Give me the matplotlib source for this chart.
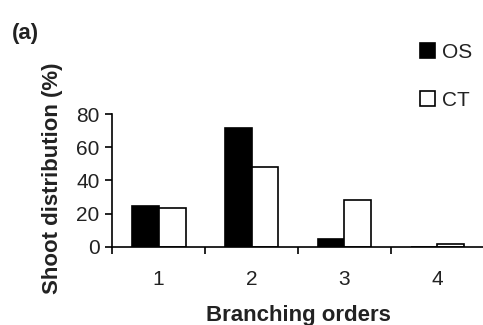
import matplotlib
matplotlib.use("Agg")
import matplotlib.pyplot as plt
import numpy as np

orders = ["1", "2", "3", "4"]
os_vals = [24.5, 71.5, 4.8, 0.0]
ct_vals = [23.5, 48.0, 28.3, 1.8]
yticks = [0, 20, 40, 60, 80]

plt.rcParams['font.family'] = ['Liberation Sans', 'DejaVu Sans']
txt = '#222222'

fig = plt.figure(figsize=(4.83, 3.25), dpi=100)
ax = fig.add_axes([0.232, 0.241, 0.77, 0.408])

x = np.arange(len(orders))
w = 0.29
ax.bar(x - w / 2, os_vals, w, color='black', edgecolor='black', linewidth=1.2, label='OS')
ax.bar(x + w / 2, ct_vals, w, color='white', edgecolor='black', linewidth=1.2, label='CT')

ax.set_xlim(-0.5, len(orders) - 0.5)
ax.set_ylim(0, 80)
ax.set_yticks(yticks)
ax.set_xticks(np.arange(len(orders) + 1) - 0.5)
ax.set_xticklabels([])
ax.set_xticks(x, minor=True)
ax.set_xticklabels(orders, minor=True)
ax.tick_params(axis='x', which='minor', length=0, pad=17, labelsize=15, labelcolor=txt)
ax.tick_params(axis='x', which='major', direction='out', length=5, width=1.2)
ax.tick_params(axis='y', direction='out', length=5, width=1.2, labelsize=15, labelcolor=txt, pad=4)
for s in ['top', 'right']:
    ax.spines[s].set_visible(False)
for s in ['left', 'bottom']:
    ax.spines[s].set_linewidth(1.2)

ax.set_ylabel('Shoot distribution (%)', fontsize=16, fontweight='bold', color=txt, va='center')
ax.yaxis.set_label_coords(-0.161, 0.518)
ax.set_xlabel('Branching orders', fontsize=16, fontweight='bold', color=txt, va='center')
ax.xaxis.set_label_coords(0.5, -0.52)

fig.text(12 / 483, 1 - 33 / 325, '(a)', fontsize=16, fontweight='bold', color=txt, va='center')
fig.legend(loc='upper left', bbox_to_anchor=(420 / 483, 1 - 43 / 325), frameon=False, fontsize=15,
           handlelength=0.7, handleheight=0.7, handletextpad=0.35, labelspacing=1.38,
           borderpad=0, borderaxespad=0, labelcolor=txt)

fig.savefig('out.png', dpi=100)
